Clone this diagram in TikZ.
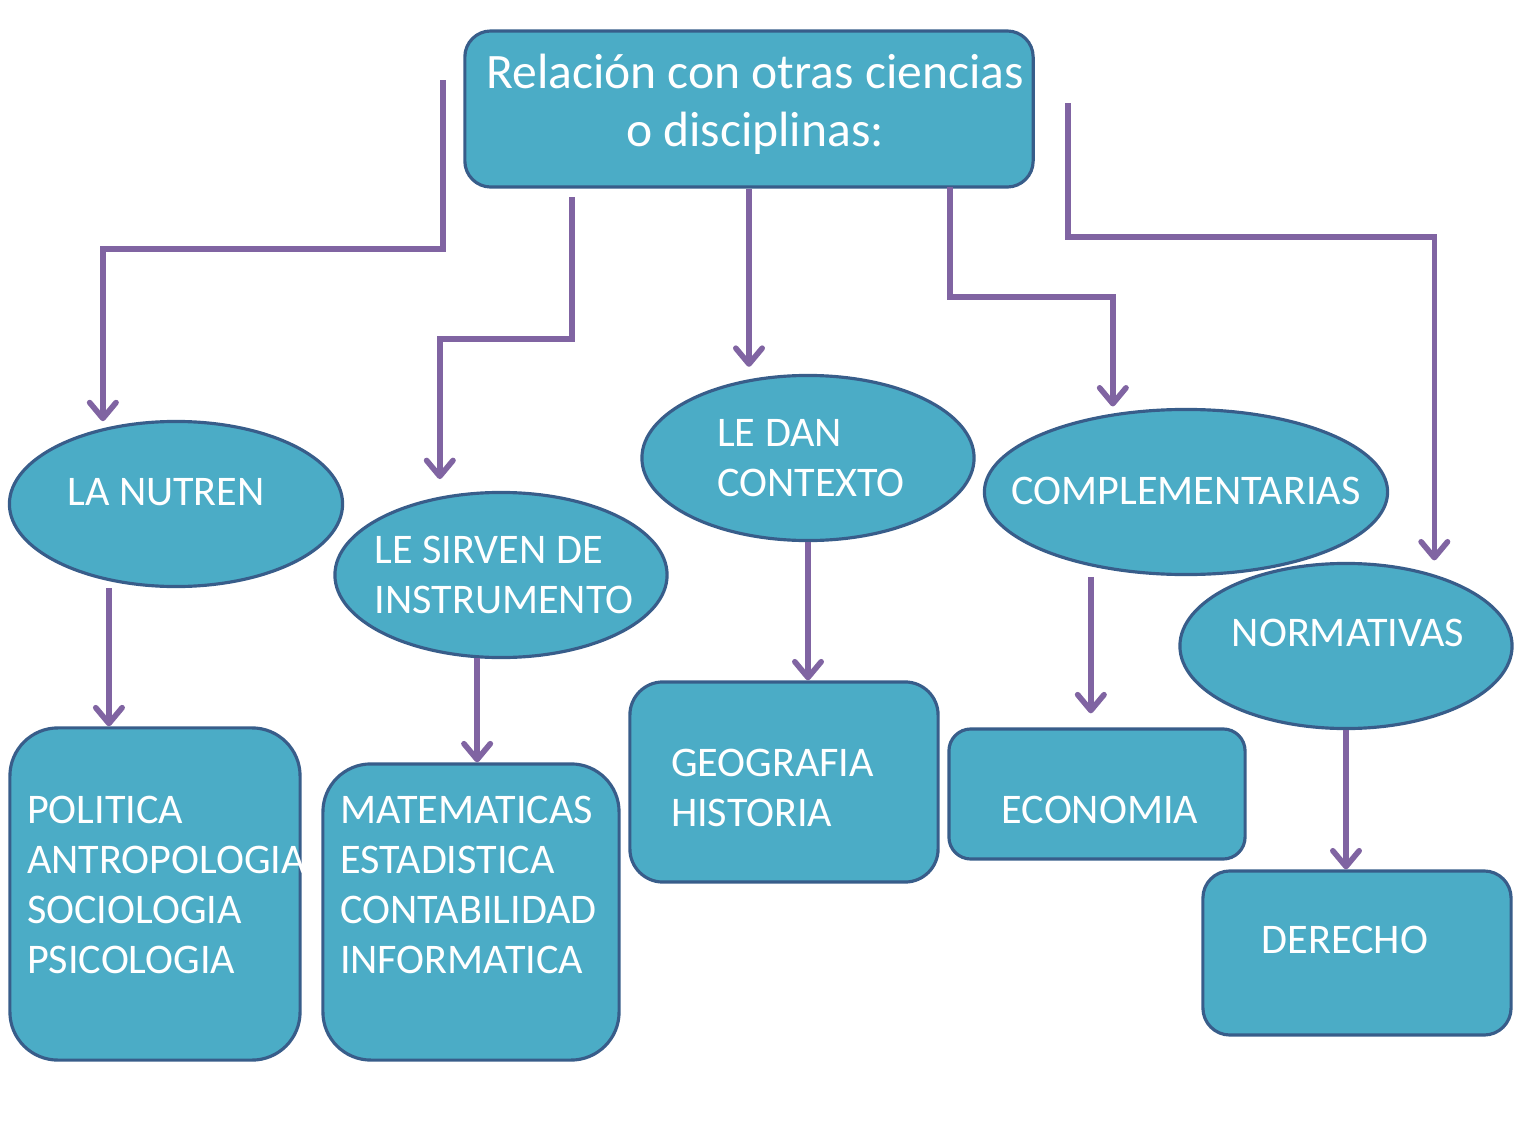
\documentclass[tikz,border=0pt]{standalone}
\usepackage{fontspec}
\setmainfont{Carlito}
\usetikzlibrary{shapes.geometric,arrows.meta}
\definecolor{turquesa}{HTML}{4BACC6}
\definecolor{azulborde}{HTML}{385D8A}
\definecolor{violeta}{HTML}{8064A2}
\begin{document}
\begin{tikzpicture}[x=0.01cm,y=-0.01cm,
  caja/.style={draw=azulborde, fill=turquesa, line width=0.9pt, inner sep=0pt},
  elipse/.style={caja, ellipse, minimum width=3.32cm, minimum height=1.65cm},
  rotulo/.style={text=white, inner sep=0pt, align=left, font=\fontsize{12}{14.2}\selectfont},
  rama/.style={draw=violeta, line width=1.6pt, shorten >=2pt, -{Straight Barb[length=4.5pt,width=7.5pt,round]}}]
\useasboundingbox (0,0) rectangle (1514,1127);

\node[caja, rounded corners=0.26cm, minimum width=5.68cm, minimum height=1.56cm,
  label={[rotulo, align=center, xshift=0.06cm, yshift=0.05cm, font=\fontsize{14.1}{16.5}\selectfont]center:Relación con otras ciencias\\o disciplinas:}] (titulo) at (749,109) {};

\node[elipse, minimum width=3.33cm, label={[rotulo, xshift=-0.10cm, yshift=0.12cm]center:LA NUTREN}] (nutren) at (176,504) {};
\node[elipse, label={[rotulo, xshift=0.03cm]center:LE SIRVEN DE\\INSTRUMENTO}] (sirven) at (501,575) {};
\node[elipse, label={[rotulo, xshift=0.03cm]center:LE DAN\\CONTEXTO}] (contexto) at (808,458) {};
\node[elipse, minimum width=4.03cm, label={[rotulo, yshift=0.01cm]center:COMPLEMENTARIAS}] (complem) at (1186,492) {};
\node[elipse, label={[rotulo, xshift=0.02cm, yshift=0.13cm]center:NORMATIVAS}] (normat) at (1346,646) {};

\node[caja, rounded corners=0.48cm, minimum width=2.90cm, minimum height=3.32cm,
  label={[rotulo, anchor=west, xshift=0.18cm, yshift=0.09cm]west:POLITICA\\ANTROPOLOGIA\\SOCIOLOGIA\\PSICOLOGIA}] (politica) at (155,894) {};
\node[caja, rounded corners=0.48cm, minimum width=2.96cm, minimum height=2.96cm,
  label={[rotulo, anchor=west, xshift=0.18cm, yshift=0.27cm]west:MATEMATICAS\\ESTADISTICA\\CONTABILIDAD\\INFORMATICA}] (matemat) at (471,912) {};
\node[caja, rounded corners=0.33cm, minimum width=3.08cm, minimum height=2.00cm,
  label={[rotulo, anchor=west, xshift=0.42cm, yshift=-0.06cm]west:GEOGRAFIA\\HISTORIA}] (geogr) at (784,782) {};
\node[caja, rounded corners=0.22cm, minimum width=2.96cm, minimum height=1.30cm,
  label={[rotulo, xshift=0.03cm, yshift=-0.16cm]center:ECONOMIA}] (econ) at (1097,794) {};
\node[caja, rounded corners=0.27cm, minimum width=3.08cm, minimum height=1.64cm,
  label={[rotulo, xshift=-0.12cm, yshift=0.13cm]center:DERECHO}] (derecho) at (1357,953) {};

% salidas del titulo
\coordinate (s1) at (443,80);
\coordinate (s2) at (572,197);
\coordinate (s4) at (950,187);
\coordinate (s5) at (1068,103);

\path[rama] (s1) -- ++(0,169) -| (nutren.134);
\path[rama, shorten >=5pt] (s2) -- ++(0,142) -| (sirven.128);
\path[rama] (titulo.south) -- (titulo.south |- contexto.north);
\path[rama] (s4) -- ++(0,110) -| (complem.133);
\path[rama, shorten >=4pt] (s5) -- ++(0,134) -| (normat.39);

\path[rama, shorten >=0pt, shorten <=2pt] (nutren.-131) -- (nutren.-131 |- politica.north);
\path[rama, shorten >=0pt] (sirven.-106) -- (sirven.-106 |- matemat.north);
\path[rama, shorten >=0pt] (contexto.south) -- (contexto.south |- geogr.north);
\path[rama, shorten >=4pt, shorten <=3pt] (complem.-142) -- (complem.-142 |- econ.north);
\path[rama, shorten >=0pt] (normat.south) -- (normat.south |- derecho.north);
\end{tikzpicture}
\end{document}
